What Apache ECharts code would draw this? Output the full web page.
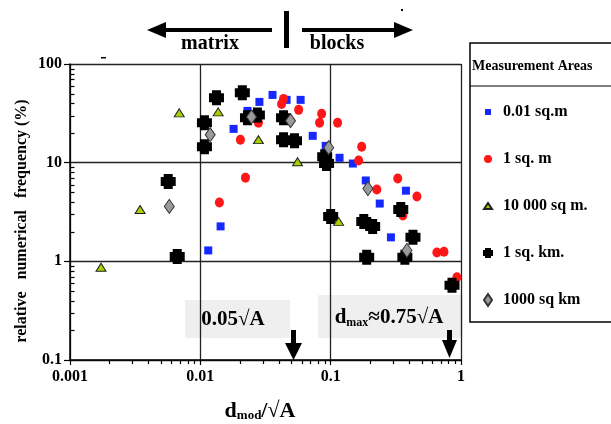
<!DOCTYPE html>
<html>
<head>
<meta charset="utf-8">
<script src="https://cdn.jsdelivr.net/npm/echarts@6/dist/echarts.min.js"></script>
<style>html,body{margin:0;padding:0;background:#fff}#c{width:611px;height:424px}</style>
</head>
<body>
<div id="c"></div>
<script>
// ---- data (x = d_mod/sqrt(A), y = relative numerical frequency %) ----
const seriesNames = ['0.01 sq.m', '1 sq. m', '10 000 sq m.', '1 sq. km.', '1000 sq km'];
const area001sqm = [[0.0115,1.29],[0.0143,2.26],[0.018,22],[0.023,33.5],[0.0284,41.3],[0.0358,48.6],[0.0459,43.3],[0.0588,43.3],[0.0728,18.7],[0.0916,14.8],[0.117,11.2],[0.148,9.8],[0.186,6.6],[0.238,3.85],[0.29,1.75],[0.378,5.2]];
const area1sqm = [[0.014,3.95],[0.0222,7.05],[0.0203,17.1],[0.0279,25.4],[0.0435,44.3],[0.042,39.4],[0.0568,34.3],[0.0853,31.3],[0.0822,25.4],[0.113,25.4],[0.173,14.5],[0.164,10.5],[0.226,5.34],[0.327,6.9],[0.459,4.54],[0.358,2.92],[0.653,1.23],[0.74,1.25],[0.93,0.69]];
const area10000sqm = [[0.00173,0.87],[0.00345,3.35],[0.00689,32],[0.0137,32.7],[0.0279,17.1],[0.0557,10.2],[0.115,2.54]];
const area1sqkm = [[0.00567,6.43],[0.00665,1.12],[0.0133,45.4],[0.01075,25.4],[0.01075,14.5],[0.021,51],[0.023,28.5],[0.0274,30.5],[0.0435,28.5],[0.0435,17.1],[0.0528,16.7],[0.09,11.5],[0.093,9.8],[0.1,2.85],[0.1795,2.54],[0.21,2.26],[0.345,3.35],[0.428,1.75],[0.189,1.1],[0.371,1.1],[0.853,0.573]];
const area1000sqkm = [[0.00578,3.6],[0.0119,19.2],[0.0247,29.1],[0.0492,26.6],[0.0966,14.2],[0.193,5.46],[0.385,1.29]];
const xTickLabels = {0.001:'0.001', 0.01:'0.01', 0.1:'0.1', 1:'1'};
const yTickLabels = {0.1:'0.1', 1:'1', 10:'10', 100:'100'};
const xMinorTicks = [0.002,0.003,0.004,0.005,0.006,0.007,0.008,0.009,0.02,0.03,0.04,0.05,0.06,0.07,0.08,0.09,0.2,0.3,0.4,0.5,0.6,0.7,0.8,0.9];
const yMinorTicks = [0.2,0.3,0.4,0.5,0.6,0.7,0.8,0.9,2,3,4,5,6,7,8,9,20,30,40,50,60,70,80,90];

const SERIF = 'Liberation Serif';
const crossPath = 'path://M2,0H8V2H10V8H8V10H2V8H0V2H2Z';

const chart = echarts.init(document.getElementById('c'), null, {renderer:'canvas'});

const graphics = [
  // top matrix / blocks arrows
  {type:'rect', shape:{x:163, y:28, width:109, height:4}, style:{fill:'#000'}},
  {type:'polygon', shape:{points:[[147,30],[166,22],[166,38]]}, style:{fill:'#000'}},
  {type:'rect', shape:{x:284, y:11, width:5, height:37}, style:{fill:'#000'}},
  {type:'rect', shape:{x:302, y:28, width:96, height:4}, style:{fill:'#000'}},
  {type:'polygon', shape:{points:[[413,30],[394,22],[394,38]]}, style:{fill:'#000'}},
  {type:'text', x:210, y:44, style:{text:'matrix', font:'bold 20px "Liberation Serif"', fill:'#000', align:'center', verticalAlign:'middle'}},
  {type:'text', x:337, y:44, style:{text:'blocks', font:'bold 20px "Liberation Serif"', fill:'#000', align:'center', verticalAlign:'middle'}},
  {type:'rect', shape:{x:401, y:9, width:2, height:2}, style:{fill:'#000'}},
  {type:'rect', shape:{x:101, y:57, width:5, height:1.5}, style:{fill:'#000'}},
  // legend frame
  {type:'rect', shape:{x:470, y:43, width:150, height:279}, style:{fill:'none', stroke:'#000', lineWidth:1.5}},
  {type:'line', shape:{x1:470, y1:86, x2:611, y2:86}, style:{stroke:'#000', lineWidth:1.2}},
  {type:'text', x:472, y:66, style:{text:'Measurement Areas', font:'bold 14px "Liberation Serif"', fill:'#000', align:'left', verticalAlign:'middle'}},
  // y axis title
  {type:'text', x:22, y:221, rotation:Math.PI/2,
    style:{text:'relative   numerical   frequency (%)', font:'bold 16px "Liberation Serif"', fill:'#000', align:'center', verticalAlign:'middle'}},
  // x axis title
  {type:'text', x:260, y:411,
    style:{text:'{m|d}{s|mod}{m|/√A}', fill:'#000', align:'center', verticalAlign:'middle',
      rich:{m:{fontFamily:SERIF, fontWeight:'bold', fontSize:22, lineHeight:22},
            s:{fontFamily:SERIF, fontWeight:'bold', fontSize:13, lineHeight:6, verticalAlign:'bottom'}}}},
  // annotation boxes
  {type:'rect', shape:{x:185, y:300, width:105, height:38}, style:{fill:'#efefef'}},
  {type:'text', x:233, y:320, style:{text:'0.05√A', font:'bold 21px "Liberation Serif"', fill:'#000', align:'center', verticalAlign:'middle'}},
  {type:'rect', shape:{x:318, y:295, width:145, height:43}, style:{fill:'#efefef'}},
  {type:'text', x:389, y:318,
    style:{text:'{m|d}{s|max}{m|≈0.75√A}', fill:'#000', align:'center', verticalAlign:'middle',
      rich:{m:{fontFamily:SERIF, fontWeight:'bold', fontSize:21, lineHeight:22},
            s:{fontFamily:SERIF, fontWeight:'bold', fontSize:12, lineHeight:6, verticalAlign:'bottom'}}}},
  // down arrows
  {type:'rect', shape:{x:291, y:330, width:5, height:14}, style:{fill:'#000'}},
  {type:'polygon', shape:{points:[[285,343],[302,343],[293.5,360]]}, style:{fill:'#000'}},
  {type:'rect', shape:{x:447, y:330, width:5, height:11}, style:{fill:'#000'}},
  {type:'polygon', shape:{points:[[442,340],[457,340],[449.5,358]]}, style:{fill:'#000'}}
];

const option = {
  animation:false,
  backgroundColor:'#fff',
  grid:{left:70, right:150, top:64, bottom:64, containLabel:false},
  xAxis:{
    type:'log', logBase:10, min:0.001, max:1,
    axisLine:{lineStyle:{color:'#000', width:1.5}},
    axisTick:{show:true, length:5, lineStyle:{color:'#000', width:1.2}},
    axisLabel:{margin:9, color:'#000', fontFamily:SERIF, fontWeight:'bold', fontSize:16,
      formatter:function(v){ return xTickLabels[+v.toPrecision(3)] || ''; }},
    splitLine:{show:true, lineStyle:{color:'#222', width:1.3}}
  },
  yAxis:{
    type:'log', logBase:10, min:0.1, max:100,
    axisLine:{lineStyle:{color:'#000', width:1.5}},
    axisTick:{show:true, length:6, lineStyle:{color:'#000', width:1.2}},
    axisLabel:{margin:8, color:'#000', fontFamily:SERIF, fontWeight:'bold', fontSize:16,
      formatter:function(v){ return yTickLabels[+v.toPrecision(3)] || ''; }},
    splitLine:{show:true, lineStyle:{color:'#222', width:1.3}}
  },
  legend:{
    orient:'vertical', left:480, top:104, padding:0, itemGap:31, itemWidth:14, itemHeight:14,
    textStyle:{fontFamily:SERIF, fontWeight:'bold', fontSize:16, color:'#000', padding:[0,0,0,3]},
    data:[
      {name:seriesNames[0], icon:'path://M0,0M14,14M4,4H10V10H4Z'},
      {name:seriesNames[1], icon:'path://M0,0M14,14M3,7A4,4 0 1,0 11,7A4,4 0 1,0 3,7Z'},
      {name:seriesNames[2], icon:'path://M0,0M14,14M3,10L7,4L11,10Z'},
      {name:seriesNames[3], icon:'path://M0,0M14,14M4,2H10V4H12V10H10V12H4V10H2V4H4Z'},
      {name:seriesNames[4], icon:'path://M0,0M14,14M7,1L11,7L7,13L3,7Z'}
    ]
  },
  series:[
    {name:seriesNames[0], type:'scatter', data:area001sqm, symbol:'rect', symbolSize:8, z:2,
      itemStyle:{color:'#1428ff', opacity:1}},
    {name:seriesNames[1], type:'scatter', data:area1sqm, symbol:'circle', symbolSize:[9,10], z:3,
      itemStyle:{color:'#ff1616', opacity:1}},
    {name:seriesNames[2], type:'scatter', data:area10000sqm, symbol:'triangle', symbolSize:[10,8], z:5,
      itemStyle:{color:'#a6d000', borderColor:'#222', borderWidth:1, opacity:1}},
    {name:seriesNames[3], type:'scatter', data:area1sqkm, symbol:crossPath, symbolSize:15, z:4,
      itemStyle:{color:'#000', opacity:1}},
    {name:seriesNames[4], type:'scatter', data:area1000sqkm, symbol:'diamond', symbolSize:[10,14], z:6,
      itemStyle:{color:'#9a9a9a', borderColor:'#333', borderWidth:1, opacity:1}}
  ],
  graphic:graphics
};
chart.setOption(option);

// minor log ticks, positioned through the chart's own axis scales
const yBottom = chart.convertToPixel({yAxisIndex:0}, 0.1);
const xLeft = chart.convertToPixel({xAxisIndex:0}, 0.001);
const minorEls = [];
xMinorTicks.forEach(function(v){
  const x = Math.round(chart.convertToPixel({xAxisIndex:0}, v)) + 0.5;
  minorEls.push({type:'line', shape:{x1:x, y1:yBottom + 1, x2:x, y2:yBottom + 4}, style:{stroke:'#000', lineWidth:1.2}});
});
yMinorTicks.forEach(function(v){
  const y = Math.round(chart.convertToPixel({yAxisIndex:0}, v)) + 0.5;
  minorEls.push({type:'line', shape:{x1:xLeft, y1:y, x2:xLeft + 4.5, y2:y}, style:{stroke:'#000', lineWidth:1.2}});
});
chart.setOption({graphic:graphics.concat(minorEls)});
</script>
</body>
</html>
